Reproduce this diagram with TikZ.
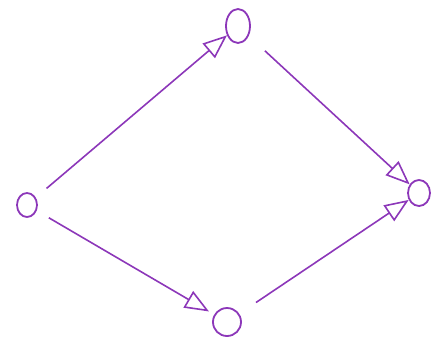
\documentclass[tikz,border=0pt]{standalone}
\usetikzlibrary{arrows.meta,shapes.geometric}
\definecolor{pen}{RGB}{140,55,185}
\tikzset{
  state/.style={draw=pen,ellipse,line width=1.8pt,inner sep=0pt},
  edge/.style={-{Triangle[open,length=24pt,width=19pt,line width=1.6pt]},draw=pen,line width=1.6pt},
}
\begin{document}
\begin{tikzpicture}[x=1pt,y=-1pt]
\useasboundingbox (0,0) rectangle (431,340);
% ---- states ----
\node[state,minimum width=24pt,minimum height=34pt] (up) at (238,26) {};
\node[state,minimum width=20pt,minimum height=24pt] (src) at (27,205) {};
\node[state,minimum width=22pt,minimum height=26pt] (snk) at (419,193) {};
\node[state,minimum width=28pt,minimum height=28pt] (low) at (227,322) {};

% ---- edges ----
\draw[edge,shorten <=14pt] (src) -- (up);
\draw[edge,shorten <=22pt] (up) -- (snk);
\draw[edge,shorten <=14pt,shorten >=6pt] (src) -- (low);
\draw[edge,shorten <=20pt] (low) -- (snk);
\end{tikzpicture}
\end{document}
